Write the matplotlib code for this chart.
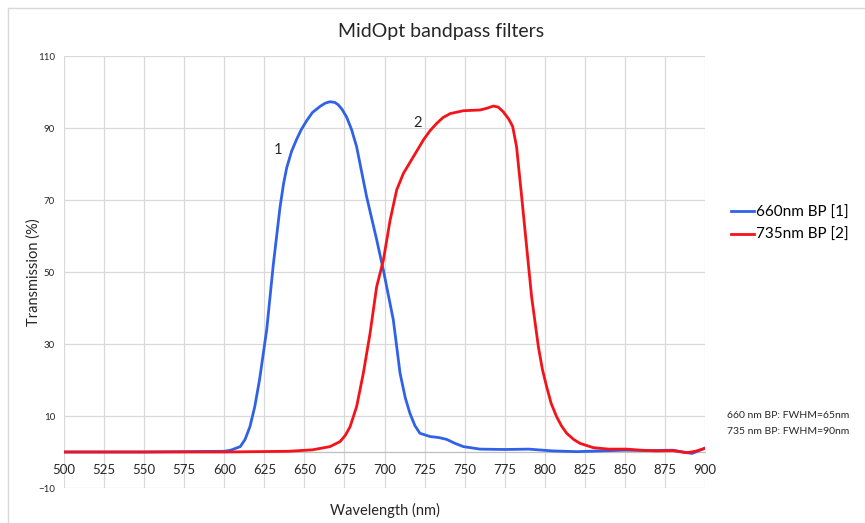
import matplotlib
matplotlib.use('Agg')
import matplotlib.pyplot as plt
from matplotlib.lines import Line2D

plt.rcParams['font.family'] = ['Lato', 'DejaVu Sans']

# 660nm BP [1]
blue_x = [500, 550, 600, 604, 610, 613, 616, 619, 622, 626.5, 630.6, 634.8, 637, 639, 642,
          645, 648, 651.4, 655, 659.8, 663, 666, 669, 671, 673.5, 676.4, 679.5, 682.6, 688.8,
          695.1, 699.3, 705.5, 709.7, 713, 715.9, 719, 722.1, 728.4, 734, 738.8, 744, 749.2,
          759.6, 775, 790, 805, 820, 835, 850, 865, 880, 886, 892, 900]
blue_y = [0, 0, 0.2, 0.5, 1.5, 3.5, 7, 12.5, 20, 34, 52, 68, 74.5, 79, 83.5,
          86.7, 89.5, 92, 94.3, 96, 96.9, 97.3, 97.1, 96.5, 95.2, 93, 89.5, 84.8, 71,
          59, 50.5, 36.7, 21.9, 15, 10.7, 7.3, 5.2, 4.3, 4.0, 3.5, 2.4, 1.5,
          0.8, 0.7, 0.8, 0.3, 0.1, 0.3, 0.5, 0.4, 0.5, 0.0, -0.4, 1.1]

# 735nm BP [2]
red_x = [500, 550, 600, 640, 655, 666, 672.3, 675.5, 678.5, 682.6, 686.8, 691, 695.1, 699.3,
         703.5, 707.6, 711.8, 718, 724.3, 728.5, 732.6, 736.5, 741, 749.2, 759.6, 764, 767.9,
         771, 774.1, 777.5, 780, 782.4, 785.6, 788.7, 791.8, 796, 798.5, 801.2, 804, 807.4,
         810.5, 813.7, 818, 822, 830.3, 840, 851.1, 860, 870, 880, 888.6, 894, 900]
red_y = [0, 0, 0, 0.2, 0.6, 1.5, 2.9, 4.6, 7, 12.6, 21.9, 33, 45.9, 53.3,
         64.4, 72.8, 77.4, 82, 86.7, 89.3, 91.3, 92.9, 94, 94.8, 95, 95.5, 96.1,
         95.8, 94.5, 92.5, 90.4, 84.8, 70.9, 57, 43.1, 29.3, 23, 18.1, 13.5, 9.8,
         7.2, 5.2, 3.5, 2.4, 1.2, 0.8, 0.8, 0.5, 0.3, 0.4, -0.2, 0.2, 1.0]

x_ticks = list(range(500, 901, 25))
y_ticks = [-10, 10, 30, 50, 70, 90, 110]

fig = plt.figure(figsize=(8.65, 5.23), dpi=100)
ax = fig.add_axes([64 / 865, 1 - 488 / 523, 641 / 865, 432 / 523])

grid_c = '#d9d9d9'
ax.plot(blue_x, blue_y, color='#2f62e8', lw=2.0, label='660nm BP [1]', zorder=4)
ax.plot(red_x, red_y, color='#f5131a', lw=2.0, label='735nm BP [2]', zorder=5)

ax.set_xlim(500, 900)
ax.set_ylim(-10, 110)
ax.set_xticks(x_ticks)
ax.set_yticks(y_ticks)
ax.grid(True, color=grid_c, lw=0.9, zorder=0)
for s in ['top', 'left', 'right']:
    ax.spines[s].set_visible(False)
ax.spines['bottom'].set_position(('data', 0))
ax.spines['bottom'].set_color('#bfbfbf')
ax.spines['bottom'].set_linewidth(0.9)
ax.tick_params(axis='x', length=0, pad=9, labelsize=9.5, labelcolor='#262626')
ax.tick_params(axis='y', length=0, pad=6.5, labelsize=7, labelcolor='#262626')

ax.set_xlabel('Wavelength (nm)', fontsize=10.5, color='#262626')
ax.xaxis.set_label_coords(0.5, -0.035)
ax.set_ylabel('Transmission (%)', fontsize=10.5, color='#262626', labelpad=-2)

ax.text(633.5, 84, '1', fontsize=10.5, ha='center', va='center', color='#262626')
ax.text(720.5, 91.5, '2', fontsize=10.5, ha='center', va='center', color='#262626')

fig.text(441 / 865, 1 - 31 / 523, 'MidOpt bandpass filters', fontsize=14,
         ha='center', va='center', color='#262626')

ax.legend(loc='center left', bbox_to_anchor=(731 / 865, 1 - 224 / 523),
          bbox_transform=fig.transFigure, frameon=False, fontsize=11,
          handlelength=1.5, handletextpad=0.15, labelspacing=0.55, borderaxespad=0,
          borderpad=0)

fig.text(727 / 865, 1 - 416 / 523, '660 nm BP: FWHM=65nm', fontsize=7.5,
         ha='left', va='center', color='#262626')
fig.text(727 / 865, 1 - 431 / 523, '735 nm BP: FWHM=90nm', fontsize=7.5,
         ha='left', va='center', color='#262626')

# chart area border (left and top edges visible)
fig.add_artist(Line2D([8 / 865, 8 / 865], [0, 1 - 8 / 523], transform=fig.transFigure,
                      color=grid_c, lw=1))
fig.add_artist(Line2D([8 / 865, 1], [1 - 8 / 523, 1 - 8 / 523], transform=fig.transFigure,
                      color=grid_c, lw=1))

fig.savefig('out.png', dpi=100)
